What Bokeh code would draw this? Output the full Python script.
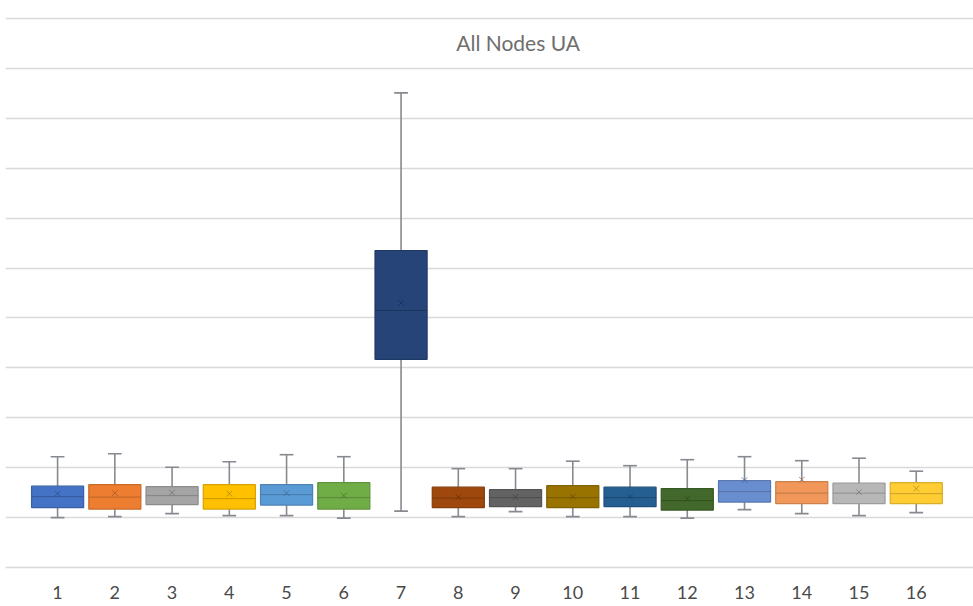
from bokeh.plotting import figure
from bokeh.models import Range1d, FixedTicker, Label
from bokeh.embed import file_html
from bokeh.resources import INLINE

title = "All Nodes UA"
nodes = list(range(1, 17))
tick_labels = [str(n) for n in nodes]

mins   = [1.00, 1.02, 1.08, 1.04, 1.04, 0.99, 1.13, 1.02, 1.12, 1.02, 1.02, 0.99, 1.16, 1.08, 1.04, 1.10]
q1s    = [1.20, 1.17, 1.26, 1.17, 1.25, 1.17, 4.17, 1.20, 1.22, 1.20, 1.22, 1.15, 1.31, 1.28, 1.28, 1.28]
medians= [1.42, 1.41, 1.44, 1.38, 1.46, 1.40, 5.15, 1.39, 1.40, 1.40, 1.40, 1.34, 1.52, 1.49, 1.49, 1.48]
means  = [1.48, 1.49, 1.50, 1.48, 1.49, 1.44, 5.30, 1.41, 1.41, 1.42, 1.42, 1.38, 1.75, 1.76, 1.51, 1.58]
q3s    = [1.63, 1.66, 1.62, 1.66, 1.66, 1.70, 6.35, 1.61, 1.56, 1.64, 1.61, 1.58, 1.74, 1.72, 1.69, 1.70]
maxs   = [2.22, 2.28, 2.01, 2.12, 2.26, 2.22, 9.51, 1.98, 1.98, 2.13, 2.04, 2.16, 2.22, 2.14, 2.19, 1.93]

fills = ["#4472C4", "#ED7D31", "#A5A5A5", "#FFC000", "#5B9BD5", "#70AD47", "#264478", "#9E480E",
         "#636363", "#997300", "#255E91", "#43682B", "#698ED0", "#F1975A", "#B7B7B7", "#FFCD33"]

def darker(h, f=0.75):
    r, g, b = int(h[1:3], 16), int(h[3:5], 16), int(h[5:7], 16)
    return "#%02x%02x%02x" % (int(r * f), int(g * f), int(b * f))

edges = [darker(c, 0.85) for c in fills]
marks = [darker(c, 0.65) for c in fills]

BOX_W = 0.91
CAP = 0.12

p = figure(width=973, height=606, output_backend="svg", toolbar_location=None,
           x_range=Range1d(0.09, 17.0), y_range=Range1d(0, 11.36),
           min_border_left=5, min_border_right=0, min_border_top=0, min_border_bottom=39)
p.outline_line_color = None
p.background_fill_color = "white"
p.border_fill_color = "white"

p.yaxis.visible = False
p.ygrid.ticker = FixedTicker(ticks=list(range(0, 12)))
p.ygrid.grid_line_color = "#D9D9D9"
p.ygrid.grid_line_width = 1.3
p.xgrid.grid_line_color = None

p.xaxis.ticker = FixedTicker(ticks=nodes)
p.xaxis.major_label_overrides = {n: t for n, t in zip(nodes, tick_labels)}
p.xaxis.axis_line_color = "#D9D9D9"
p.xaxis.axis_line_width = 1.3
p.xaxis.major_tick_line_color = None
p.xaxis.minor_tick_line_color = None
p.xaxis.major_label_standoff = 12
p.xaxis.major_label_text_font = "Lato"
p.xaxis.major_label_text_font_size = "18px"
p.xaxis.major_label_text_color = "#4A4A4A"

wh = "#868A90"
# whiskers
p.segment(x0=nodes, y0=mins, x1=nodes, y1=maxs, line_color=wh, line_width=1.6)
xl = [n - CAP for n in nodes]
xr = [n + CAP for n in nodes]
p.segment(x0=xl, y0=maxs, x1=xr, y1=maxs, line_color=wh, line_width=1.6)
p.segment(x0=xl, y0=mins, x1=xr, y1=mins, line_color=wh, line_width=1.6)

# boxes
p.vbar(x=nodes, bottom=q1s, top=q3s, width=BOX_W, fill_color=fills, line_color=edges, line_width=1.2)

# medians
bl = [n - BOX_W / 2 for n in nodes]
br = [n + BOX_W / 2 for n in nodes]
p.segment(x0=bl, y0=medians, x1=br, y1=medians, line_color=marks, line_width=1, line_alpha=0.6)

# means
p.scatter(x=nodes, y=means, marker="x", size=8, line_color=marks, line_width=1, line_alpha=0.7)

TITLE_X, TITLE_Y = 9.045, 10.52
p.add_layout(Label(x=TITLE_X, y=TITLE_Y, text=title, text_align="center", text_baseline="middle",
                   text_font="Lato", text_font_size="21px", text_color="#6E6E6E"))

open("out.html", "w").write(file_html(p, INLINE))
